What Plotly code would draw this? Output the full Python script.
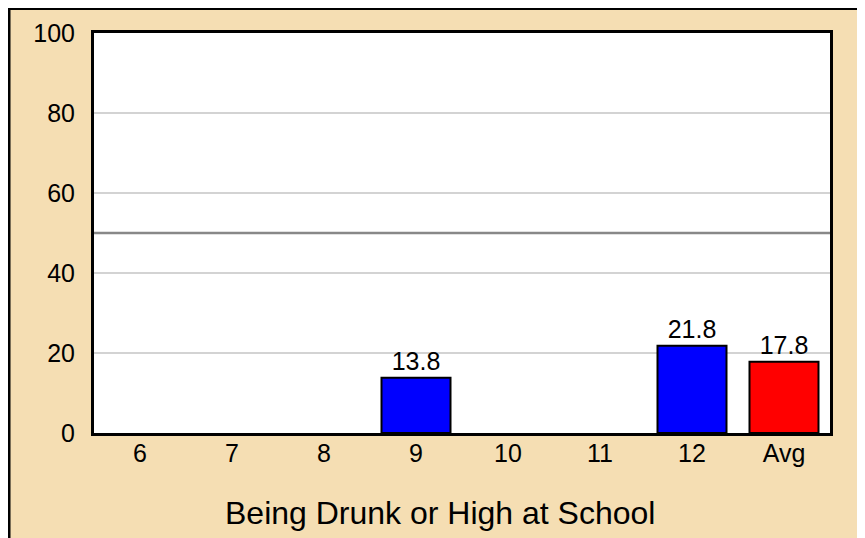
import plotly.graph_objects as go

categories = ["6", "7", "8", "9", "10", "11", "12", "Avg"]
values = [None, None, None, 13.8, None, None, 21.8, 17.8]
bar_colors = ["#0000FF"] * 7 + ["#FF0000"]
y_ticks = [0, 20, 40, 60, 80, 100]
ref_value = 50
x_title = "Being Drunk or High at School"

labels = [("%.1f" % v) if v is not None else "" for v in values]

FONT = "Arial, 'Liberation Sans', Helvetica, sans-serif"
W, H = 857, 530
L, R, T, B = 86, 35, 25, 105
pw, ph = W - L - R, H - T - B

def px_x(p):
    return (p - L) / pw

def px_y(p):
    return (H - B - p) / ph

fig = go.Figure()
fig.add_trace(go.Bar(
    x=categories, y=values,
    marker=dict(color=bar_colors, line=dict(color="black", width=2)),
    width=0.75,
    text=labels, textposition="outside", cliponaxis=False,
    textfont=dict(family=FONT, size=25, color="black"),
    hoverinfo="skip",
))

shapes = [
    dict(type="line", xref="paper", yref="y", x0=0, x1=1, y0=ref_value, y1=ref_value,
         line=dict(color="#888888", width=2.5), layer="below"),
    dict(type="line", xref="paper", yref="paper", x0=px_x(1), x1=px_x(1), y0=px_y(600), y1=px_y(-5),
         line=dict(color="black", width=3), layer="above"),
    dict(type="line", xref="paper", yref="paper", x0=px_x(-5), x1=px_x(900), y0=px_y(0.5), y1=px_y(0.5),
         line=dict(color="black", width=3), layer="above"),
]

fig.update_layout(
    width=W, height=H,
    margin=dict(l=L, r=R, t=T, b=B, pad=0),
    paper_bgcolor="#F5DEB3",
    plot_bgcolor="white",
    showlegend=False,
    font=dict(family=FONT, size=24, color="black"),
    shapes=shapes,
    annotations=[dict(
        text=x_title, xref="paper", yref="paper", x=px_x(432), y=px_y(505),
        xanchor="center", yanchor="middle", showarrow=False,
        font=dict(family=FONT, size=32, color="black"),
    )],
    xaxis=dict(
        type="category", showline=True, linecolor="black", linewidth=3, mirror=True,
        showgrid=False, ticks="outside", ticklen=0, tickcolor="rgba(0,0,0,0)",
        ticklabelstandoff=-4,
        tickfont=dict(family=FONT, size=25, color="black"),
    ),
    yaxis=dict(
        range=[0, 100], tickvals=y_ticks, showline=True, linecolor="black", linewidth=3, mirror=True,
        showgrid=True, gridcolor="#D3D3D3", gridwidth=2, zeroline=False,
        ticks="outside", ticklen=11, tickcolor="rgba(0,0,0,0)",
        tickfont=dict(family=FONT, size=25, color="black"),
    ),
    bargap=0.25,
)

fig.write_html("out.html")
